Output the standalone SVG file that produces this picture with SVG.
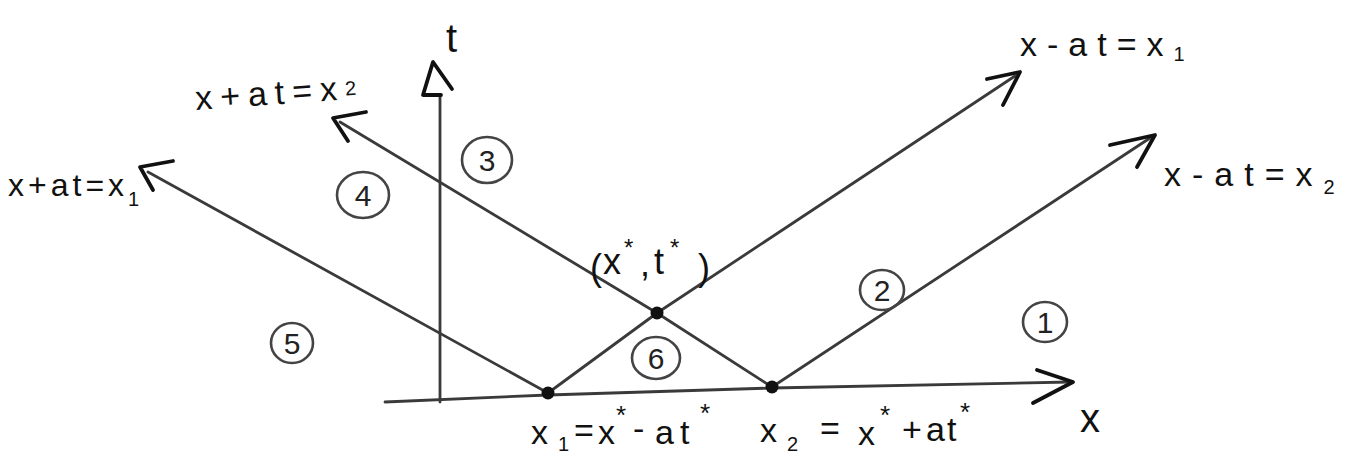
<svg xmlns="http://www.w3.org/2000/svg" width="1346" height="456" viewBox="0 0 1346 456">
<style>
.ln{fill:none;stroke:#3a3a3a;stroke-width:2.8;stroke-linecap:round;stroke-linejoin:round}
.ah{fill:none;stroke:#111;stroke-width:3.8;stroke-linecap:round;stroke-linejoin:round}
.dot{fill:#111}
.lb{font-family:"Liberation Sans","DejaVu Sans",sans-serif;fill:#111}
.cir{fill:none;stroke:#444;stroke-width:2.6}
.num{font-family:"Liberation Sans","DejaVu Sans",sans-serif;font-size:30px;fill:#222;text-anchor:middle}
</style>
<rect width="1346" height="456" fill="#fff"/>
<g id="connectors">
<path class="ln" d="M385,402 L548,395 L772,388 L1070,382"/>
<path class="ah" d="M1037,370 L1073,382 L1033,403"/>
<path class="ln" d="M440,402 L440,95"/>
<path class="ah" d="M452,89 L433,62 L423,95 L441,95"/>
<path class="ln" d="M548,393 L148,172"/>
<path class="ah" d="M173,161 L140,167 L153,190"/>
<path class="ln" d="M772,387 L657,313 L340,122"/>
<path class="ah" d="M366,112 L333,118 L348,141"/>
<path class="ln" d="M548,393 L657,313 L1015,76"/>
<path class="ah" d="M987,79 L1020,72 L1003,105"/>
<path class="ln" d="M772,387 L1150,138"/>
<path class="ah" d="M1110,145 L1155,135 L1137,167"/>
</g>
<g id="point-x1"><circle class="dot" cx="548" cy="393" r="6.5"/></g>
<g id="point-x2"><circle class="dot" cx="772" cy="387" r="6.5"/></g>
<g id="point-xt"><circle class="dot" cx="657" cy="313" r="6.5"/></g>
<g id="axis-t-label"><text class="lb" x="446" y="52" font-size="40">t</text></g>
<g id="axis-x-label"><text class="lb" x="1080" y="432" font-size="40">x</text></g>
<g id="label-x-plus-at-x1"><text class="lb" x="8" y="196" font-size="32" letter-spacing="4">x+at=x<tspan font-size="20" dy="10" letter-spacing="0">1</tspan></text></g>
<g id="label-x-plus-at-x2"><text class="lb" x="196" y="110" font-size="34" letter-spacing="8" transform="rotate(-4 196 110)">x+at=x<tspan font-size="20" dy="-4" letter-spacing="0">2</tspan></text></g>
<g id="label-x-minus-at-x1"><text class="lb" x="1020" y="56" font-size="34" letter-spacing="10">x-at=x<tspan font-size="20" dy="5" letter-spacing="0">1</tspan></text></g>
<g id="label-x-minus-at-x2"><text class="lb" x="1164" y="186" font-size="34" letter-spacing="11">x-at=x<tspan font-size="20" dy="8" letter-spacing="0">2</tspan></text></g>
<g id="label-xt"><text class="lb" font-size="36"><tspan x="590" y="280">(</tspan><tspan x="603" y="274">x</tspan><tspan x="624" y="256" font-size="24">*</tspan><tspan x="640" y="276">,</tspan><tspan x="654" y="274">t</tspan><tspan x="670" y="256" font-size="24">*</tspan><tspan x="698" y="280">)</tspan></text></g>
<g id="label-x1"><text class="lb" font-size="34"><tspan x="531" y="444">x</tspan><tspan x="558" y="451" font-size="20">1</tspan><tspan x="574" y="442">=</tspan><tspan x="598" y="444">x</tspan><tspan x="616" y="424" font-size="26">*</tspan><tspan x="633" y="440">-</tspan><tspan x="655" y="444">a</tspan><tspan x="680" y="444">t</tspan><tspan x="700" y="422" font-size="26">*</tspan></text></g>
<g id="label-x2"><text class="lb" font-size="34"><tspan x="760" y="442">x</tspan><tspan x="787" y="451" font-size="20">2</tspan><tspan x="820" y="440">=</tspan><tspan x="858" y="445">x</tspan><tspan x="880" y="424" font-size="26">*</tspan><tspan x="902" y="441">+</tspan><tspan x="926" y="441">a</tspan><tspan x="947" y="441">t</tspan><tspan x="960" y="421" font-size="26">*</tspan></text></g>
<g id="region-1"><ellipse class="cir" cx="1045" cy="322" rx="22" ry="20"/><text class="num" x="1045" y="333">1</text></g>
<g id="region-2"><ellipse class="cir" cx="882" cy="290" rx="22" ry="20"/><text class="num" x="882" y="301">2</text></g>
<g id="region-3"><ellipse class="cir" cx="487" cy="160" rx="25" ry="23"/><text class="num" x="487" y="171">3</text></g>
<g id="region-4"><ellipse class="cir" cx="363" cy="195" rx="26" ry="23"/><text class="num" x="363" y="206">4</text></g>
<g id="region-5"><ellipse class="cir" cx="292" cy="343" rx="21" ry="20"/><text class="num" x="292" y="354">5</text></g>
<g id="region-6"><ellipse class="cir" cx="656" cy="358" rx="24" ry="21"/><text class="num" x="656" y="369">6</text></g>
</svg>
